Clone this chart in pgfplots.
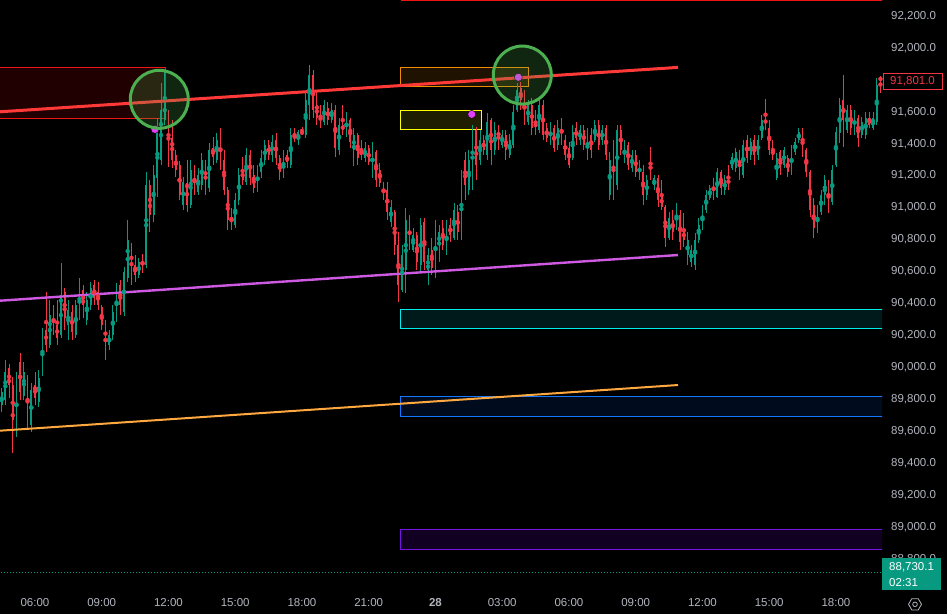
\documentclass[border=0pt]{standalone}
\usepackage{pgfplots}
\pgfplotsset{compat=1.18}
\usepackage{pgfplotstable}
\usepackage{fontspec}
\setmainfont{Liberation Sans}
\definecolor{tvup}{RGB}{8,153,129}
\definecolor{tvdn}{RGB}{242,54,69}
\definecolor{tvtxt}{RGB}{178,181,190}
\definecolor{trendred}{RGB}{255,56,56}
\definecolor{trendmag}{RGB}{206,90,226}
\definecolor{trendorg}{RGB}{255,168,64}
\definecolor{zred}{RGB}{240,20,20}
\definecolor{zredf}{RGB}{32,0,0}
\definecolor{zorg}{RGB}{240,140,0}
\definecolor{zorgf}{RGB}{32,18,0}
\definecolor{zyel}{RGB}{255,255,0}
\definecolor{zyelf}{RGB}{32,30,0}
\definecolor{zcyan}{RGB}{0,235,235}
\definecolor{zcyanf}{RGB}{0,26,28}
\definecolor{zblue}{RGB}{20,120,255}
\definecolor{zbluef}{RGB}{0,12,30}
\definecolor{zpur}{RGB}{120,20,225}
\definecolor{zpurf}{RGB}{18,0,34}
\definecolor{cgreen}{RGB}{76,175,80}
\definecolor{dotmag}{RGB}{224,64,251}

\pgfplotstableread{
i o h l c
0 89764 89870 89720 89845
1 89795 90046 89764 89971
2 89996 90021 89808 89889
3 89889 89939 89463 89670
4 89607 89971 89564 89920
5 90033 90090 89795 89845
6 89820 90033 89795 89971
7 89920 89952 89620 89670
8 89639 89902 89595 89858
9 89889 89971 89764 89808
10 89783 89983 89751 89933
11 89964 90246 89945 90202
12 90234 90471 90096 90140
13 90140 90421 90121 90327
14 90346 90390 90202 90234
15 90265 90421 90140 90183
16 90202 90653 90183 90453
17 90471 90497 90234 90309
18 90265 90421 90171 90359
19 90346 90390 90171 90221
20 90202 90421 90183 90390
21 90327 90559 90296 90497
22 90484 90515 90309 90390
23 90296 90471 90265 90421
24 90390 90534 90359 90497
25 90515 90547 90390 90434
26 90471 90534 90359 90390
27 90378 90390 90234 90265
28 90284 90296 90046 90140
29 90140 90234 90108 90202
30 90202 90390 90171 90346
31 90309 90528 90284 90484
32 90515 90547 90327 90390
33 90346 90628 90321 90597
34 90559 90922 90534 90797
35 90766 90778 90515 90609
36 90641 90703 90534 90578
37 90578 90684 90559 90659
38 90684 90710 90590 90622
39 90641 91223 90622 91142
40 91142 91173 90847 90954
41 90954 91267 90910 91204
42 91185 91561 91066 91486
43 91298 91780 91267 91611
44 91549 91855 91517 91674
45 91580 91611 91254 91329
46 91436 91549 91248 91298
47 91329 91361 91192 91235
48 91267 91292 91048 91079
49 91017 91192 90985 91160
50 91154 91298 90972 91017
51 91017 91298 90998 91235
52 91223 91267 91079 91110
53 91098 91248 91079 91204
54 91142 91342 91110 91298
55 91286 91298 91079 91142
56 91123 91405 91098 91361
57 91373 91442 91267 91317
58 91298 91467 91279 91423
59 91436 91498 91235 91286
60 91298 91361 91079 91110
61 91110 91129 90860 90922
62 90954 90998 90860 90891
63 90891 91091 90872 91048
64 91048 91248 91017 91204
65 91235 91317 91142 91173
66 91160 91373 91142 91329
67 91329 91361 91142 91185
68 91204 91267 91091 91123
69 91123 91267 91098 91235
70 91223 91361 91185 91311
71 91298 91423 91267 91392
72 91392 91423 91298 91329
73 91329 91455 91286 91411
74 91423 91467 91267 91311
75 91311 91329 91173 91223
76 91204 91361 91185 91311
77 91329 91361 91248 91286
78 91267 91498 91248 91455
79 91455 91498 91411 91436
80 91423 91486 91392 91473
81 91473 91505 91455 91467
82 91455 91724 91436 91674
83 91643 91893 91549 91830
84 91830 91862 91561 91611
85 91643 91736 91517 91561
86 91580 91643 91498 91536
87 91536 91674 91517 91643
88 91624 91661 91517 91549
89 91549 91655 91530 91611
90 91611 91643 91317 91373
91 91361 91561 91329 91517
92 91517 91643 91455 91486
93 91473 91599 91442 91561
94 91549 91561 91373 91411
95 91361 91498 91261 91455
96 91455 91467 91267 91311
97 91361 91423 91298 91329
98 91311 91411 91286 91373
99 91373 91392 91267 91286
100 91235 91411 91185 91361
101 91348 91361 91129 91173
102 91235 91279 91129 91154
103 91142 91160 91048 91073
104 91110 91160 90922 90972
105 90910 91048 90879 91004
106 90972 90985 90703 90766
107 90766 90847 90409 90515
108 90484 90766 90471 90703
109 90609 90998 90465 90922
110 90922 90954 90735 90766
111 90735 90872 90722 90828
112 90828 90847 90609 90659
113 90641 90935 90590 90891
114 90910 90935 90609 90659
115 90609 90747 90515 90703
116 90735 90810 90578 90622
117 90622 90922 90559 90872
118 90766 90891 90659 90847
119 90872 90922 90735 90766
120 90735 90922 90703 90872
121 90891 90935 90785 90828
122 90810 91029 90797 90985
123 90972 91017 90797 90847
124 90810 91235 90797 91173
125 91298 91348 91048 91142
126 91110 91361 91079 91298
127 91235 91517 91110 91455
128 91486 91505 91173 91267
129 91298 91486 91267 91423
130 91423 91455 91329 91361
131 91329 91592 91298 91536
132 91549 91561 91267 91361
133 91361 91536 91329 91486
134 91498 91517 91361 91423
135 91392 91486 91373 91455
136 91455 91486 91298 91361
137 91329 91461 91311 91423
138 91392 91643 91373 91599
139 91611 91780 91599 91736
140 91749 91787 91611 91674
141 91705 91736 91517 91561
142 91536 91674 91517 91643
143 91643 91686 91455 91498
144 91549 91611 91455 91486
145 91486 91686 91467 91643
146 91643 91674 91423 91455
147 91498 91530 91411 91436
148 91423 91536 91392 91498
149 91498 91517 91348 91373
150 91392 91549 91361 91498
151 91536 91561 91392 91423
152 91423 91455 91298 91329
153 91373 91411 91248 91267
154 91311 91517 91298 91473
155 91498 91536 91392 91436
156 91423 91517 91392 91486
157 91486 91517 91361 91392
158 91311 91498 91298 91455
159 91455 91498 91311 91361
160 91423 91549 91411 91517
161 91517 91549 91361 91392
162 91423 91517 91392 91486
163 91498 91517 91298 91329
164 91079 91348 91048 91298
165 91361 91423 91048 91142
166 91142 91517 91110 91486
167 91486 91517 91329 91361
168 91298 91423 91279 91392
169 91392 91411 91235 91267
170 91248 91361 91223 91329
171 91329 91361 91192 91223
172 91204 91298 91173 91267
173 91223 91267 91017 91079
174 91079 91204 91048 91173
175 91298 91380 91173 91204
176 91142 91204 91110 91185
177 91185 91204 91004 91048
178 91079 91173 90985 91004
179 91004 91017 90753 90810
180 90810 90972 90797 90935
181 90922 90985 90797 90847
182 90879 91029 90860 90985
183 90954 90985 90735 90785
184 90860 90966 90753 90797
185 90703 90847 90641 90797
186 90659 90766 90628 90735
187 90641 90841 90609 90797
188 90797 90935 90778 90891
189 90872 91017 90860 90985
190 90985 91110 90966 91079
191 91060 91142 91048 91123
192 91160 91185 91048 91079
193 91066 91248 91060 91223
194 91223 91235 91079 91123
195 91110 91204 91079 91173
196 91185 91267 91110 91142
197 91248 91342 91235 91317
198 91248 91373 91223 91348
199 91348 91361 91173 91223
200 91204 91423 91185 91392
201 91423 91455 91279 91311
202 91329 91436 91298 91411
203 91423 91455 91267 91329
204 91329 91455 91298 91423
205 91436 91580 91423 91549
206 91561 91680 91486 91517
207 91498 91549 91329 91361
208 91361 91423 91298 91329
209 91185 91342 91173 91311
210 91348 91361 91204 91248
211 91267 91380 91248 91361
212 91311 91329 91192 91223
213 91223 91392 91204 91361
214 91348 91436 91329 91411
215 91423 91498 91405 91473
216 91486 91498 91317 91361
217 91361 91373 91192 91223
218 91223 91235 90941 90985
219 91017 91060 90810 90872
220 90860 91017 90841 90985
221 90972 91110 90954 91079
222 91079 91204 91017 91173
223 91142 91173 90966 91017
224 91035 91267 91017 91235
225 91267 91505 91254 91473
226 91467 91686 91405 91643
227 91674 91830 91380 91549
228 91486 91643 91467 91611
229 91611 91643 91455 91498
230 91486 91611 91455 91580
231 91561 91580 91380 91436
232 91455 91567 91436 91536
233 91455 91599 91430 91561
234 91561 91599 91498 91517
235 91498 91599 91486 91561
236 91536 91812 91517 91768
237 91812 91824 91718 91801
}\candles

\newcommand{\lbl}[1]{\mbox{#1}}

\begin{document}
\begin{tikzpicture}
\path[use as bounding box] (0,0) rectangle (947pt,614pt);
\fill[black] (0,0) rectangle (947pt,614pt);
\begin{axis}[
  at={(0pt,28pt)}, anchor=south west,
  scale only axis, width=882pt, height=586pt,
  xmin=-0.437, xmax=237.42, ymin=88630.5, ymax=92300,
  scaled x ticks=false, scaled y ticks=false,
  axis line style={draw=none}, major tick length=0pt, tick style={draw=none},
  xtick={9,27,45,63,81,99,117,135,153,171,189,207,225},
  xticklabels={\lbl{06:00},\lbl{09:00},\lbl{12:00},\lbl{15:00},\lbl{18:00},\lbl{21:00},\lbl{\textbf{28}},\lbl{03:00},\lbl{06:00},\lbl{09:00},\lbl{12:00},\lbl{15:00},\lbl{18:00}},
  xticklabel style={anchor=center, yshift=-17pt, inner sep=0pt, font=\fontsize{11.5}{13}\selectfont, text=tvtxt},
  ytick={88800,89000,89200,89400,89600,89800,90000,90200,90400,90600,90800,91000,91200,91400,91600,92000,92200},
  yticklabel pos=right,
  yticklabels={{\lbl{88,800.0}},{\lbl{89,000.0}},{\lbl{89,200.0}},{\lbl{89,400.0}},{\lbl{89,600.0}},{\lbl{89,800.0}},{\lbl{90,000.0}},{\lbl{90,200.0}},{\lbl{90,400.0}},{\lbl{90,600.0}},{\lbl{90,800.0}},{\lbl{91,000.0}},{\lbl{91,200.0}},{\lbl{91,400.0}},{\lbl{91,600.0}},{\lbl{92,000.0}},{\lbl{92,200.0}}},
  yticklabel style={anchor=west, inner sep=0pt, xshift=9pt, font=\fontsize{11.5}{13}\selectfont, text=tvtxt},
]
% zones
\addplot[draw=none, fill=zredf] coordinates {(-1,91559) (44.06,91559) (44.06,91878) (-1,91878)} -- cycle;
\addplot[zred, line width=1pt] coordinates {(-1,91878) (44.06,91878) (44.06,91559) (-1,91559)};
\addplot[draw=zorg, fill=zorgf, line width=1pt] coordinates {(107.7,91757) (142.15,91757) (142.15,91878) (107.7,91878)} -- cycle;
\addplot[draw=zyel, fill=zyelf, line width=1pt] coordinates {(107.7,91488) (129.47,91488) (129.47,91609) (107.7,91609)} -- cycle;
\addplot[draw=none, fill=zcyanf] coordinates {(107.7,90244) (240,90244) (240,90363) (107.7,90363)} -- cycle;
\addplot[zcyan, line width=1pt] coordinates {(240,90363) (107.7,90363) (107.7,90244) (240,90244)};
\addplot[draw=none, fill=zbluef] coordinates {(107.7,89693) (240,89693) (240,89818) (107.7,89818)} -- cycle;
\addplot[zblue, line width=1pt] coordinates {(240,89818) (107.7,89818) (107.7,89693) (240,89693)};
\addplot[draw=none, fill=zpurf] coordinates {(107.7,88860) (240,88860) (240,88986) (107.7,88986)} -- cycle;
\addplot[zpur, line width=1pt] coordinates {(240,88986) (107.7,88986) (107.7,88860) (240,88860)};
\addplot[zred, line width=1.3pt] coordinates {(107.7,92295) (240,92295)};
% current price line
\addplot[tvup, line width=0.7pt, dash pattern=on 1pt off 2pt] coordinates {(-1,88718) (240,88718)};
% candles: wicks
\addplot[tvup, only marks, mark=none, restrict expr to domain={\thisrow{c}-\thisrow{o}}{0:100000},
  error bars/.cd, y dir=both, y explicit, error mark=none, error bar style={draw=tvup, line width=0.9pt}]
  table[x=i, y expr={(\thisrow{h}+\thisrow{l})/2}, y error expr={(\thisrow{h}-\thisrow{l})/2}] {\candles};
\addplot[tvdn, only marks, mark=none, restrict expr to domain={\thisrow{c}-\thisrow{o}}{-100000:-0.5},
  error bars/.cd, y dir=both, y explicit, error mark=none, error bar style={draw=tvdn, line width=0.9pt}]
  table[x=i, y expr={(\thisrow{h}+\thisrow{l})/2}, y error expr={(\thisrow{h}-\thisrow{l})/2}] {\candles};
% candles: bodies
\addplot[tvup, only marks, mark=none, restrict expr to domain={\thisrow{c}-\thisrow{o}}{0:100000},
  error bars/.cd, y dir=both, y explicit, error mark=none, error bar style={draw=tvup, line width=1.8pt}]
  table[x=i, y expr={(\thisrow{o}+\thisrow{c})/2}, y error expr={max(abs(\thisrow{c}-\thisrow{o})/2,3)}] {\candles};
\addplot[tvdn, only marks, mark=none, restrict expr to domain={\thisrow{c}-\thisrow{o}}{-100000:-0.5},
  error bars/.cd, y dir=both, y explicit, error mark=none, error bar style={draw=tvdn, line width=1.8pt}]
  table[x=i, y expr={(\thisrow{o}+\thisrow{c})/2}, y error expr={max(abs(\thisrow{c}-\thisrow{o})/2,3)}] {\candles};
% trend lines
\addplot[trendred, line width=3pt] coordinates {(-0.437,91600) (182.4,91878)};
\addplot[trendmag, line width=2.4pt] coordinates {(-0.437,90417) (182.4,90703)};
\addplot[trendorg, line width=2pt] coordinates {(-0.437,89603) (182.4,89889)};
% dots
\addplot[only marks, mark=*, mark size=4pt, mark options={draw=none, fill=dotmag}] coordinates {(41.36,91490) (126.78,91584) (139.34,91816)};
% circles
\addplot[only marks, mark=*, mark size=29pt, mark options={draw=cgreen, line width=3pt, fill=cgreen, fill opacity=0.22}] coordinates {(42.52,91678) (140.42,91830)};
\end{axis}
% last price label
\draw[tvdn, fill=black, line width=0.8pt] (883pt,524.7pt) rectangle (942pt,540.7pt);
\node[anchor=center, inner sep=0pt, text=tvdn, font=\fontsize{11.5}{13}\selectfont] at (912.5pt,532.7pt) {91,801.0};
% current price box
\fill[tvup] (882pt,24pt) rectangle (941pt,56pt);
\node[anchor=west, inner sep=0pt, text=white, font=\fontsize{11.5}{13}\selectfont] at (889pt,47pt) {88,730.1};
\node[anchor=west, inner sep=0pt, text=white, font=\fontsize{11.5}{13}\selectfont] at (889pt,31.5pt) {02:31};
% settings icon
\draw[tvtxt, line width=0.8pt, shift={(915pt,9.7pt)}] (0:6.5pt) -- (60:6.5pt) -- (120:6.5pt) -- (180:6.5pt) -- (240:6.5pt) -- (300:6.5pt) -- cycle;
\draw[tvtxt, line width=0.8pt] (915pt,9.7pt) circle (2.3pt);
\end{tikzpicture}
\end{document}
